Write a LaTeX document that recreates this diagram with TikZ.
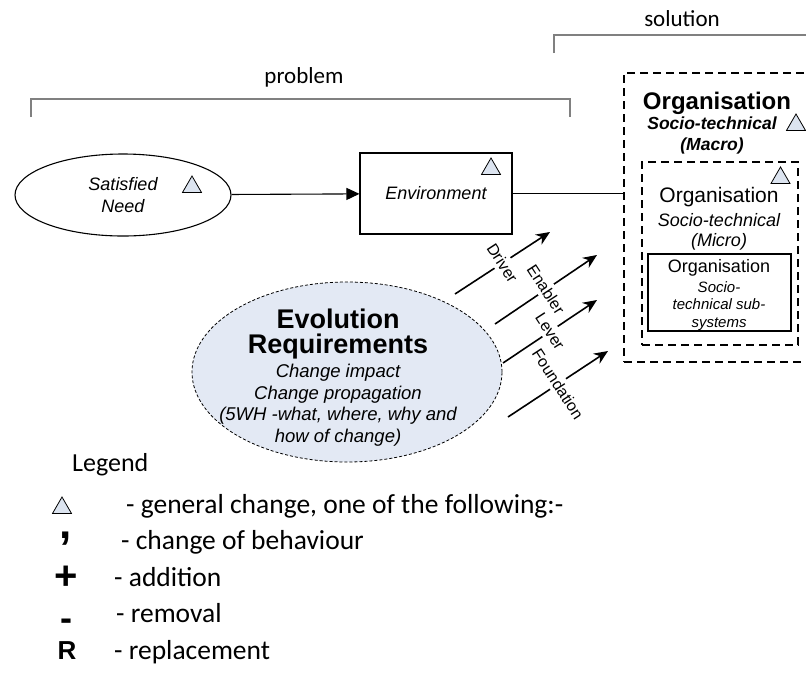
\documentclass[tikz,border=0pt]{standalone}
\usepackage{fontspec}
\setmainfont{Liberation Sans}
\newfontfamily\calib{Carlito}
\usetikzlibrary{arrows.meta,shapes.geometric}
\definecolor{trifill}{RGB}{220,228,240}
\definecolor{evofill}{RGB}{227,233,244}
\definecolor{brackgray}{RGB}{128,128,128}
\tikzset{
  chg/.style={regular polygon,regular polygon sides=3,draw,fill=trifill,minimum size=22,inner sep=0pt,line width=0.8},
  orgbox/.style={draw,dash pattern=on 8 off 5,line width=1.4},
  brack/.style={brackgray,line width=1.8},
  lab/.style={fill=white,rotate=-57,inner sep=3.5,font=\fontsize{16}{18}\selectfont},
  legtext/.style={anchor=base west,inner sep=0pt,font=\calib\fontsize{27.5}{32}\selectfont},
}
\begin{document}
\begin{tikzpicture}[x=1pt,y=-1pt]
\useasboundingbox (0,0) rectangle (806,681);

% problem / solution brackets
\draw[brack] (31,117) -- (31,99) -- (570,99) -- (570,117);
\node[font=\calib\fontsize{23}{26}\selectfont] (prob) at (304,77) {problem};
\draw[brack] (554,53) -- (554,35) -- (812,35);
\node[font=\calib\fontsize{23}{26}\selectfont] (sol) at (682,19) {solution};

\node[draw,ellipse,minimum width=216,minimum height=82,line width=1.1,align=center,font=\itshape\fontsize{18}{22}\selectfont] (need) at (123,195) {Satisfied\\Need};
\node[chg] (needchg) at (192,187) {};
\node[draw,minimum width=152,minimum height=81,line width=1.1,font=\itshape\fontsize{18}{22}\selectfont] (env) at (436,193.5) {Environment};
\node[chg] (envchg) at (491,169) {};
\draw[-{Triangle[length=13,width=12]},line width=1.1] (need) -- (env);

% organisation boxes
\node[orgbox,minimum width=186,minimum height=289] (macro) at (717,217.5) {};
\node[orgbox,minimum width=156,minimum height=183] (micro) at (720,253.5) {};
\node[draw,line width=1.1,minimum width=143,minimum height=77] (sub) at (719.5,292.5) {};
\draw[line width=1.1] (env.east) -- (env.east -| macro.west);
\node[font=\bfseries\fontsize{24}{26}\selectfont] (macrot) at (717,103) {Organisation};
\node[font=\bfseries\itshape\fontsize{17.5}{21}\selectfont,align=center] (macrob) at (712,135.5) {Socio-technical\\(Macro)};
\node[chg] (macrochg) at (796,125) {};
\node[font=\fontsize{21}{24}\selectfont] (microt) at (719,197) {Organisation};
\node[font=\itshape\fontsize{18}{20}\selectfont,align=center] (microb) at (719,232) {Socio-technical\\(Micro)};
\node[chg] (microchg) at (780.5,178) {};
\node[font=\fontsize{18}{20}\selectfont] (subt) at (719,268) {Organisation};
\node[font=\itshape\fontsize{15}{17.5}\selectfont,align=center] (subb) at (719,306) {Socio-\\technical sub-\\systems};

% evolution requirements
\node[draw,ellipse,dash pattern=on 3 off 2,line width=0.8,fill=evofill,minimum width=310,minimum height=180] (evo) at (347,372) {};
\node[font=\bfseries\fontsize{27}{25}\selectfont,align=center] (evot) at (338,334) {Evolution\\Requirements};
\node[font=\itshape\fontsize{18.5}{21.5}\selectfont,align=center] (evob) at (338,405) {Change impact\\Change propagation\\(5WH -what, where, why and\\how of change)};

\foreach \name/\sx/\sy/\ex/\ey in {Driver/455/294/550/232,Enabler/495/324/597/255,Lever/503/363/597/300,Foundation/508/417/608/351}{
  \coordinate (\name-s) at (\sx,\sy);
  \coordinate (\name-e) at (\ex,\ey);
  \draw[-{Stealth[length=14,width=12]},line width=1.6] (\name-s) -- node[lab] (\name) {\name} (\name-e);
}

% legend
\node[anchor=base west,inner sep=0pt,font=\calib\fontsize{26}{30}\selectfont] (leg) at (72,471) {Legend};
\node[chg] (legchg) at (62,508) {};
\node[legtext] (leg1) at (126,513) {- general change, one of the following:-};
\node[anchor=base,font=\bfseries\fontsize{44}{44}\selectfont] (legbeh) at (66,538) {,};
\node[legtext] (leg2) at (121,549) {- change of behaviour};
\node[font=\bfseries\fontsize{40}{40}\selectfont] (legadd) at (66,578) {+};
\node[legtext] (leg3) at (114,586) {- addition};
\node[font=\bfseries\fontsize{36}{36}\selectfont] (legrem) at (66,625) {-};
\node[legtext] (leg4) at (116,622) {- removal};
\node[font=\bfseries\fontsize{26}{26}\selectfont] (legrep) at (67,651) {R};
\node[legtext] (leg5) at (114,659) {- replacement};
\end{tikzpicture}
\end{document}
